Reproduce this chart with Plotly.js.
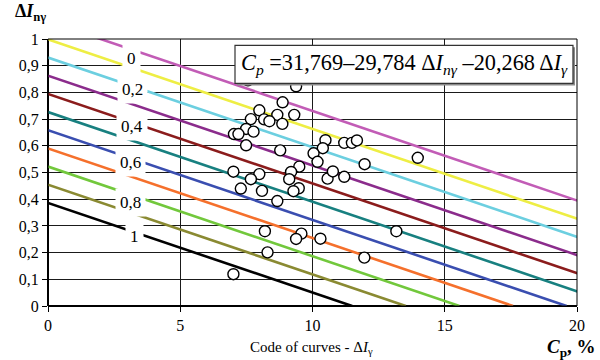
<!DOCTYPE html>
<html>
<head>
<meta charset="utf-8">
<script src="https://cdn.plot.ly/plotly-3.0.1.min.js"></script>
<style>html,body{margin:0;padding:0;background:#fff;}#chart{width:600px;height:360px;}</style>
</head>
<body>
<div id="chart"></div>
<script>
// Regression equation shown on the chart: Cp = 31,769 - 29,784*dInG - 20,268*dIG
const eqIntercept = 31.769;
const eqCoefInG = 29.784;
const eqCoefIG = 20.268;

// Curve codes (ΔIγ) and their colours
const curveCodes = [0, 0.1, 0.2, 0.3, 0.4, 0.5, 0.6, 0.7, 0.8, 0.9, 1];
const curveColors = ['#c25cb6', '#eeee44', '#6ccfe0', '#8b2c8c', '#8b1c1c', '#188080',
                     '#3a4eb0', '#f5702c', '#72c83c', '#8a8a32', '#000000'];

// Curve labels
const labelTexts = ['0', '0,2', '0,4', '0,6', '0,8', '1'];
const labelX = [3.16, 3.18, 3.18, 3.10, 3.10, 3.28];
const labelY = [0.926, 0.810, 0.671, 0.537, 0.388, 0.262];

// Observed points (Cp, ΔInγ)
const pointsX = [7.56, 9.38, 8.87, 7.99, 8.67, 9.31, 7.67, 8.17, 8.37, 8.86,
                 7.49, 7.77, 7.03, 7.20, 7.49, 8.78, 10.49, 10.39, 10.04, 10.19,
                 11.20, 11.49, 11.68, 11.97, 13.98, 9.50, 9.19, 7.01, 7.99, 7.67,
                 9.12, 10.57, 10.77, 11.20, 9.48, 9.28, 7.29, 8.09, 8.67, 8.20,
                 9.58, 9.38, 10.30, 8.30, 7.01, 11.96, 13.17];
const pointsY = [0.845, 0.823, 0.763, 0.733, 0.716, 0.716, 0.700, 0.699, 0.692, 0.682,
                 0.663, 0.653, 0.644, 0.644, 0.602, 0.583, 0.621, 0.591, 0.572, 0.540,
                 0.611, 0.611, 0.620, 0.531, 0.555, 0.522, 0.502, 0.503, 0.494, 0.475,
                 0.475, 0.477, 0.504, 0.484, 0.441, 0.430, 0.440, 0.431, 0.393, 0.280,
                 0.271, 0.251, 0.252, 0.201, 0.119, 0.181, 0.280];

const xTickVals = [0, 5, 10, 15, 20];
const xTickText = ['0', '5', '10', '15', '20'];
const yTickVals = [0, 0.1, 0.2, 0.3, 0.4, 0.5, 0.6, 0.7, 0.8, 0.9, 1];
const yTickText = ['0', '0,1', '0,2', '0,3', '0,4', '0,5', '0,6', '0,7', '0,8', '0,9', '1'];

const FONT = 'Liberation Serif';

const traces = curveCodes.map((c, i) => {
  const cpAtZero = eqIntercept - eqCoefIG * c;          // Cp where ΔInγ = 0
  return {
    type: 'scatter', mode: 'lines', hoverinfo: 'skip', showlegend: false,
    x: [0, cpAtZero],
    y: [cpAtZero / eqCoefInG, 0],
    line: {color: curveColors[i], width: 2.6}
  };
});

traces.push({
  type: 'scatter', mode: 'markers', showlegend: false,
  x: pointsX, y: pointsY,
  marker: {size: 11, color: '#ffffff', line: {color: '#000000', width: 1.4}}
});

const annotations = labelTexts.map((t, i) => ({
  x: labelX[i], y: labelY[i], xref: 'x', yref: 'y',
  text: t, showarrow: false, bgcolor: '#ffffff', borderpad: 4,
  font: {family: FONT, size: 17, color: '#000'}
}));

annotations.push({
  xref: 'paper', yref: 'paper', x: 0.673, y: 0.905, xanchor: 'center', yanchor: 'middle',
  showarrow: false,
  text: '<i>C<sub>p</sub></i> =31,769–29,784 Δ<i>I<sub>nγ</sub></i> –20,268 Δ<i>I<sub>γ</sub></i>',
  font: {family: FONT, size: 22.3, color: '#000'}
});
annotations.push({
  xref: 'paper', yref: 'paper', x: -0.067, y: 1.10, xanchor: 'left', yanchor: 'middle',
  showarrow: false, text: '<b>Δ<i>I</i><sub>nγ</sub></b>',
  font: {family: FONT, size: 18, color: '#000'}
});
annotations.push({
  xref: 'paper', yref: 'paper', x: 0.499, y: -0.157, xanchor: 'center', yanchor: 'middle',
  showarrow: false, text: 'Code of curves - Δ<i>I</i><sub>γ</sub>',
  font: {family: FONT, size: 15, color: '#000'}
});
annotations.push({
  xref: 'paper', yref: 'paper', x: 1.04, y: -0.157, xanchor: 'right', yanchor: 'middle',
  showarrow: false, text: '<b><i>C</i><sub>p</sub>, %</b>',
  font: {family: FONT, size: 19, color: '#000'}
});

const shapes = [
  // shadow of equation box
  {type: 'rect', xref: 'paper', yref: 'paper', layer: 'above',
   x0: 0.3573, x1: 0.9962, y0: 0.826, y1: 0.969,
   fillcolor: '#8a8a8a', line: {width: 0}},
  // equation box
  {type: 'rect', xref: 'paper', yref: 'paper', layer: 'above',
   x0: 0.3535, x1: 0.9924, y0: 0.834, y1: 0.976,
   fillcolor: '#ffffff', line: {color: '#333', width: 1.2}},
  // plot border
  {type: 'rect', xref: 'paper', yref: 'paper', layer: 'above',
   x0: 0, x1: 1, y0: 0, y1: 1, line: {color: '#000', width: 1}}
];

const axisCommon = {
  showgrid: true, gridcolor: '#1a1a1a', gridwidth: 1,
  zeroline: true, zerolinecolor: '#000', zerolinewidth: 2,
  showline: false, ticks: 'outside', ticklen: 5, tickcolor: '#000', tickwidth: 1,
  tickfont: {family: FONT, size: 16, color: '#000'}, fixedrange: true
};

const layout = {
  width: 600, height: 360,
  margin: {l: 48, r: 23, t: 39, b: 54},
  paper_bgcolor: '#fff', plot_bgcolor: '#fff',
  showlegend: false,
  font: {family: FONT},
  xaxis: Object.assign({}, axisCommon, {range: [0, 20], tickvals: xTickVals, ticktext: xTickText}),
  yaxis: Object.assign({}, axisCommon, {range: [0, 1], tickvals: yTickVals, ticktext: yTickText}),
  annotations: annotations,
  shapes: shapes
};

Plotly.newPlot('chart', traces, layout, {staticPlot: true, displayModeBar: false});
</script>
</body>
</html>
